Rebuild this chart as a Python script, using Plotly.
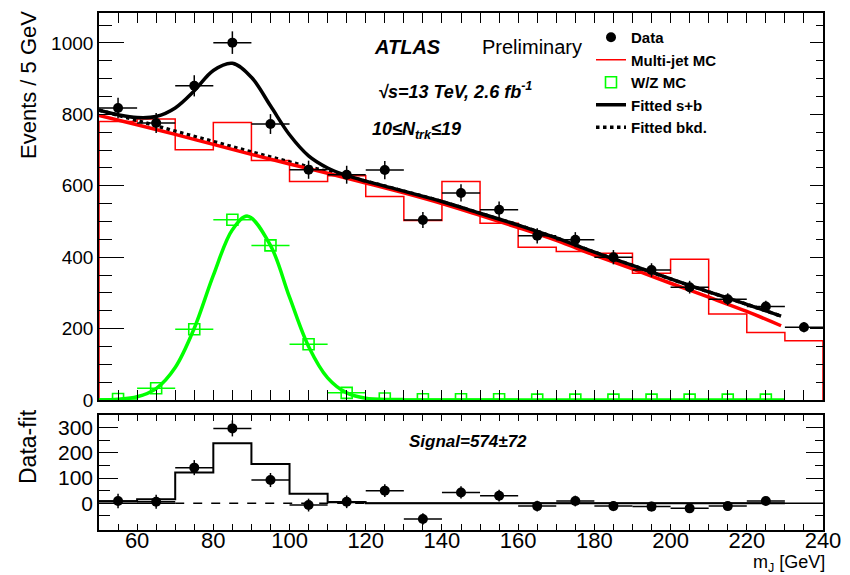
import plotly.graph_objects as go

# ---------------- data ----------------
data_x = [55, 65, 75, 85, 95, 105, 115, 125, 135, 145, 155, 165, 175, 185, 195, 205, 215, 225, 235]
data_y = [818, 776, 880, 1001, 773, 645, 631, 644, 504, 580, 533, 460, 449, 400, 364, 316, 282, 262, 204]
data_err = [28.6, 27.9, 29.7, 31.6, 27.8, 25.4, 25.1, 25.4, 22.4, 24.1, 23.1, 21.4, 21.2, 20.0, 19.1, 17.8, 16.8, 16.2, 14.3]

mj_edges = [50, 60, 70, 80, 90, 100, 110, 120, 130, 140, 150, 160, 170, 180, 190, 200, 210, 220, 230, 240]
mj_vals = [780, 787, 701, 777, 671, 612, 628, 570, 503, 612, 495, 428, 416, 411, 355, 394, 241, 189, 166]

wz_x = [55, 65, 75, 85, 95, 105, 115, 125, 135, 145, 155, 165, 175, 185, 195, 205, 215, 225]
wz_y = [3, 33, 198, 505, 433, 156, 20, 4, 2, 2, 2, 1, 1, 1, 1, 1, 1, 1]

wz_fit_x = [50, 55, 60, 65, 70, 75, 80, 85, 89, 95, 100, 105, 110, 115, 120, 125, 130, 140, 160, 200, 230]
wz_fit_y = [0.3, 2, 9, 32, 91, 201, 349, 477, 515, 433, 288, 150, 62, 20, 5, 1, 0.2, 0, 0, 0, 0]

mjfit_x = [50, 60, 70, 80, 90, 100, 110, 120, 130, 140, 150, 160, 170, 180, 190, 200, 210, 220, 229]
mjfit_y = [797, 771, 744, 716, 688, 661, 635, 608, 580, 550, 517, 483, 447, 406, 367, 327, 288, 248, 208]

bkd_x = [50, 60, 70, 80, 90, 100, 110, 120, 130, 140, 150, 160, 170, 180, 190, 200, 210, 220, 229]
bkd_y = [812, 783, 753, 724, 695, 667, 640, 613, 585, 556, 523, 490, 454, 414, 377, 339, 303, 268, 235]

sb_x = [50, 55, 60, 65, 70, 75, 80, 85, 90, 95, 100, 105, 110, 115, 120, 130, 140, 150, 160, 170, 180, 190, 200, 210, 220, 229]
sb_y = [812, 799, 791, 794, 818, 866, 923, 943, 904, 824, 743, 684, 650, 629, 613, 585, 556, 523, 490, 454, 414, 377, 339, 303, 268, 235]

res_x = [55, 65, 75, 85, 95, 105, 115, 125, 135, 145, 155, 165, 175, 185, 195, 205, 215, 225]
res_y = [9, 6, 141, 296, 92, -7, 6, 50, -62, 43, 30, -11, 9, -11, -13, -20, -11, 9]
res_err = [28.6, 27.9, 29.7, 31.6, 27.8, 25.4, 25.1, 25.4, 22.4, 24.1, 23.1, 21.4, 21.2, 20.0, 19.1, 17.8, 16.8, 16.2]

sig_edges = [50, 60, 70, 80, 90, 100, 110, 120, 130, 140, 150, 160, 170, 180, 190, 200, 210, 220, 230]
sig_vals = [8, 16, 122, 237, 155, 38, 4, 0, 0, 0, 0, 0, 0, 0, 0, 0, 0, 0]

zero_solid_left_x = [50, 70]
zero_dash_x = [70, 120]
zero_solid_right_x = [120, 240]
zero_y = [0, 0]

bin_half = 5
x_range = [50, 240]
top_range = [0, 1084]
bot_range = [-105.5, 349]

# ---------------- figure ----------------
FONT = "Liberation Sans"
GREEN = "#00ff00"
RED = "#ff0000"

fig = go.Figure()

fig.add_trace(go.Scatter(x=wz_fit_x, y=wz_fit_y, mode="lines", line=dict(color=GREEN, width=3.5, shape="spline"),
                         showlegend=False, hoverinfo="skip", xaxis="x", yaxis="y"))
mj_x_step = [mj_edges[0]] + mj_edges + [mj_edges[-1]]
mj_y_step = [0] + mj_vals + [mj_vals[-1], 0]
fig.add_trace(go.Scatter(x=mj_x_step, y=mj_y_step, mode="lines", line=dict(color=RED, width=1.5, shape="hv"),
                         name="Multi-jet MC", legendrank=2, legendgroup="b", xaxis="x", yaxis="y"))
fig.add_trace(go.Scatter(x=bkd_x, y=bkd_y, mode="lines", line=dict(color="black", width=3.5, dash="dot", shape="spline"),
                         name="Fitted bkd.", legendrank=5, legendgroup="e", xaxis="x", yaxis="y"))
fig.add_trace(go.Scatter(x=mjfit_x, y=mjfit_y, mode="lines", line=dict(color=RED, width=3.5, shape="spline"),
                         showlegend=False, hoverinfo="skip", xaxis="x", yaxis="y"))
fig.add_trace(go.Scatter(x=sb_x, y=sb_y, mode="lines", line=dict(color="black", width=3.5, shape="spline"),
                         name="Fitted s+b", legendrank=4, legendgroup="d", xaxis="x", yaxis="y"))
fig.add_trace(go.Scatter(x=wz_x, y=wz_y, mode="markers",
                         marker=dict(symbol="square-open", size=11, color=GREEN, line=dict(width=1.6, color=GREEN)),
                         error_x=dict(type="constant", value=bin_half, width=0, thickness=1.5, color=GREEN),
                         name="W/Z MC", legendrank=3, legendgroup="c", xaxis="x", yaxis="y"))
fig.add_trace(go.Scatter(x=data_x, y=data_y, mode="markers",
                         marker=dict(symbol="circle", size=10, color="black"),
                         error_x=dict(type="constant", value=bin_half, width=0, thickness=1.5, color="black"),
                         error_y=dict(type="data", array=data_err, width=0, thickness=1.5, color="black"),
                         name="Data", legendrank=1, legendgroup="a", xaxis="x", yaxis="y"))

# ---- bottom panel ----
fig.add_trace(go.Scatter(x=zero_solid_left_x, y=zero_y, mode="lines", line=dict(color="black", width=1.5),
                         showlegend=False, hoverinfo="skip", xaxis="x2", yaxis="y2"))
fig.add_trace(go.Scatter(x=zero_dash_x, y=zero_y, mode="lines", line=dict(color="black", width=1.5, dash="dash"),
                         showlegend=False, hoverinfo="skip", xaxis="x2", yaxis="y2"))
fig.add_trace(go.Scatter(x=zero_solid_right_x, y=zero_y, mode="lines", line=dict(color="black", width=1.5),
                         showlegend=False, hoverinfo="skip", xaxis="x2", yaxis="y2"))
sig_y_step = sig_vals + [sig_vals[-1]]
fig.add_trace(go.Scatter(x=sig_edges, y=sig_y_step, mode="lines", line=dict(color="black", width=2, shape="hv"),
                         showlegend=False, hoverinfo="skip", xaxis="x2", yaxis="y2"))
fig.add_trace(go.Scatter(x=res_x, y=res_y, mode="markers",
                         marker=dict(symbol="circle", size=10, color="black"),
                         error_x=dict(type="constant", value=bin_half, width=0, thickness=1.5, color="black"),
                         error_y=dict(type="data", array=res_err, width=0, thickness=1.5, color="black"),
                         showlegend=False, xaxis="x2", yaxis="y2"))

fig.add_trace(go.Scatter(x=[], y=[], xaxis="x", yaxis="y3", showlegend=False, hoverinfo="skip"))
fig.add_trace(go.Scatter(x=[], y=[], xaxis="x2", yaxis="y4", showlegend=False, hoverinfo="skip"))

W, H = 850, 575
ml, mr, mt, mb = 99, 27, 13, 45
pw, ph = W - ml - mr, H - mt - mb


def px(xp):
    return (xp - ml) / pw


def py(yp):
    return (H - mb - yp) / ph


top_dom = [py(400), 1.0]
bot_dom = [0.0, py(415)]

axis_common = dict(showgrid=False, zeroline=False, showline=True, linecolor="black", linewidth=1.6,
                   ticks="inside", tickcolor="black", tickwidth=1.2, automargin=False)

fig.update_layout(
    width=W, height=H,
    margin=dict(l=ml, r=mr, t=mt, b=mb, autoexpand=False),
    paper_bgcolor="white", plot_bgcolor="white",
    font=dict(family=FONT, color="black"),
    showlegend=True,
    legend=dict(x=px(591), y=py(21), xanchor="left", yanchor="top", bgcolor="rgba(0,0,0,0)",
                font=dict(family=FONT, size=15, weight="bold"), tracegroupgap=0, itemwidth=30),
    xaxis=dict(domain=[0, 1], range=x_range, anchor="y", dtick=20, tick0=0, ticklen=10,
               minor=dict(dtick=5, ticklen=5, ticks="inside", tickcolor="black"),
               mirror="allticks", showticklabels=False, matches="x2", **axis_common),
    yaxis=dict(domain=top_dom, range=top_range, anchor="x", dtick=200, tick0=0, ticklen=25,
               minor=dict(dtick=50, ticklen=13, ticks="inside", tickcolor="black"),
               mirror=True, tickfont=dict(size=19, family=FONT), **axis_common),
    yaxis3=dict(domain=top_dom, range=top_range, overlaying="y", side="right", anchor="x",
                dtick=200, tick0=0, ticklen=13, showticklabels=False, showgrid=False, zeroline=False,
                showline=False, ticks="inside", tickcolor="black", tickwidth=1.2,
                minor=dict(dtick=50, ticklen=7, ticks="inside", tickcolor="black")),
    xaxis2=dict(domain=[0, 1], range=x_range, anchor="y2", dtick=20, tick0=0, ticklen=6,
                minor=dict(dtick=5, ticklen=3, ticks="inside", tickcolor="black"),
                mirror="allticks", tickfont=dict(size=22, family=FONT), ticklabelstandoff=-10, **axis_common),
    yaxis2=dict(domain=bot_dom, range=bot_range, anchor="x2", tickmode="array", tickvals=[0, 100, 200, 300],
                ticklen=19, minor=dict(tickvals=[-50, 50, 150, 250], ticklen=11, ticks="inside", tickcolor="black"),
                mirror=True, tickfont=dict(size=21, family=FONT), **axis_common),
    yaxis4=dict(domain=bot_dom, range=bot_range, overlaying="y2", side="right", anchor="x2",
                tickmode="array", tickvals=[0, 100, 200, 300], ticklen=17, showticklabels=False,
                showgrid=False, zeroline=False, showline=False, ticks="inside", tickcolor="black", tickwidth=1.2,
                minor=dict(tickvals=[-50, 50, 150, 250], ticklen=8, ticks="inside", tickcolor="black")),
)

annos = [
    dict(text="<b><i>ATLAS</i></b>", x=px(372), y=py(47), xanchor="left", yanchor="middle", font=dict(size=20)),
    dict(text="Preliminary", x=px(480), y=py(47), xanchor="left", yanchor="middle", font=dict(size=20)),
    dict(text="<b><i>√s=13 TeV, 2.6 fb<sup>-1</sup></i></b>", x=px(376), y=py(90), xanchor="left",
         yanchor="middle", font=dict(size=18)),
    dict(text="<b><i>10≤N<sub>trk</sub>≤19</i></b>", x=px(370), y=py(130), xanchor="left", yanchor="middle",
         font=dict(size=18)),
    dict(text="<b><i>Signal=574±72</i></b>", x=px(407), y=py(441), xanchor="left", yanchor="middle",
         font=dict(size=17)),
    dict(text="m<sub>J</sub> [GeV]", x=px(826), y=py(563), xanchor="right", yanchor="middle", font=dict(size=18),
         borderpad=0),
    dict(text="Events / 5 GeV", x=px(28), y=py(85), xanchor="center", yanchor="middle", textangle=-90,
         font=dict(size=22)),
    dict(text="Data-fit", x=px(28), y=py(447), xanchor="center", yanchor="middle", textangle=-90,
         font=dict(size=23)),
]
for a in annos:
    a.update(xref="paper", yref="paper", showarrow=False)
    a["font"] = dict(family=FONT, color="black", **a["font"])
fig.update_layout(annotations=annos)

fig.write_html("out.html")
